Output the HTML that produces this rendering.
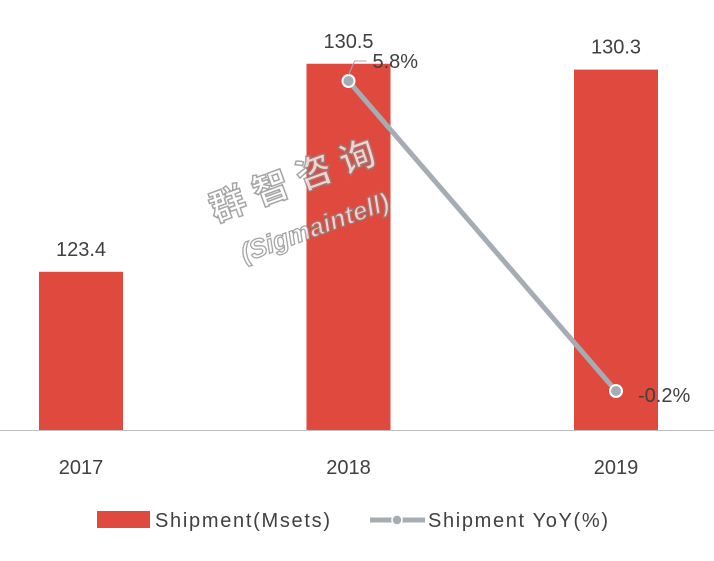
<!DOCTYPE html>
<html><head><meta charset="utf-8"><style>
body{margin:0;background:#fff;}
svg text{font-family:"Liberation Sans","Noto Sans CJK SC",sans-serif;fill:#404040;}
</style></head><body>
<svg width="714" height="556" viewBox="0 0 714 556">
<g id="bars"></g>
<line x1="0" y1="430.5" x2="714" y2="430.5" stroke="#bfbfbf" stroke-width="1"/>
<g id="xlabels"></g>
<g id="line"></g>
<g transform="rotate(-20 305 200)" opacity="0.75">
<text x="305" y="190" text-anchor="middle" font-size="36" font-weight="bold" style="fill:#fff;stroke:#888;stroke-width:1.5" letter-spacing="10">群智咨询</text>
<text x="305" y="238" text-anchor="middle" font-size="26" font-weight="bold" font-style="italic" style="fill:#fff;stroke:#888;stroke-width:1.3">(Sigmaintell)</text>
</g>
<g>
<rect x="97" y="511" width="53" height="17" fill="#E0493E"/>
<text x="155" y="527" font-size="20" textLength="175">Shipment(Msets)</text>
<line x1="370" y1="520" x2="425" y2="520" stroke="#A5ACB3" stroke-width="5"/>
<circle cx="397" cy="520" r="5" fill="#A5ACB3" stroke="#fff" stroke-width="1.5"/>
<text x="428" y="527" font-size="20" textLength="180">Shipment YoY(%)</text>
</g>
</svg>
<script>
const categories=["2017","2018","2019"];
const shipment=[123.4,130.5,130.3];
const yoy=[null,5.8,-0.2];
const NS="http://www.w3.org/2000/svg";
function mk(t,a,p){const e=document.createElementNS(NS,t);for(const k in a)e.setAttribute(k,a[k]);p.appendChild(e);return e;}
const base=430, yMin=118, ppu=29.3;
function y1(v){return base-(v-yMin)*ppu;}
function y2(v){return 81+(5.8-v)*51.67;}
function xc(i){return 81+i*267.5;}
const bars=document.getElementById('bars'),xl=document.getElementById('xlabels'),ln=document.getElementById('line');
categories.forEach((c,i)=>{
 const r=mk('rect',{x:xc(i)-42,y:y1(shipment[i]),width:84,height:base-y1(shipment[i]),fill:'#E0493E'},bars);
 
 
 const t=mk('text',{x:xc(i),y:y1(shipment[i])-16,'text-anchor':'middle','font-size':'20'},bars);
 t.textContent=shipment[i].toFixed(1);
 
 
 const l=mk('text',{x:xc(i),y:474,'text-anchor':'middle','font-size':'20'},xl);
 l.textContent=c;
 
 
});
const pts=[];yoy.forEach((v,i)=>{if(v!==null)pts.push([xc(i),y2(v),v,i]);});
const pl=mk('polyline',{points:pts.map(p=>p[0]+','+p[1]).join(' '),fill:'none',stroke:'#A5ACB3','stroke-width':5},ln);


pts.forEach((p,k)=>{
 const c=mk('circle',{cx:p[0],cy:p[1],r:6,fill:'#A5ACB3',stroke:'#fff','stroke-width':2},ln);
 
 
 let t;
 if(k===0){
  mk('polyline',{points:(p[0])+','+(p[1]-6)+' '+(p[0]+6)+','+(p[1]-20)+' '+(p[0]+18)+','+(p[1]-20),fill:'none',stroke:'#A5ACB3','stroke-width':1},ln);
  t=mk('text',{x:p[0]+24,y:p[1]-13,'font-size':'20'},ln);
 }else{
  t=mk('text',{x:p[0]+22,y:p[1]+11,'font-size':'20'},ln);
 }
 t.textContent=p[2].toFixed(1)+'%';
 
 
});
</script>
</body></html>
